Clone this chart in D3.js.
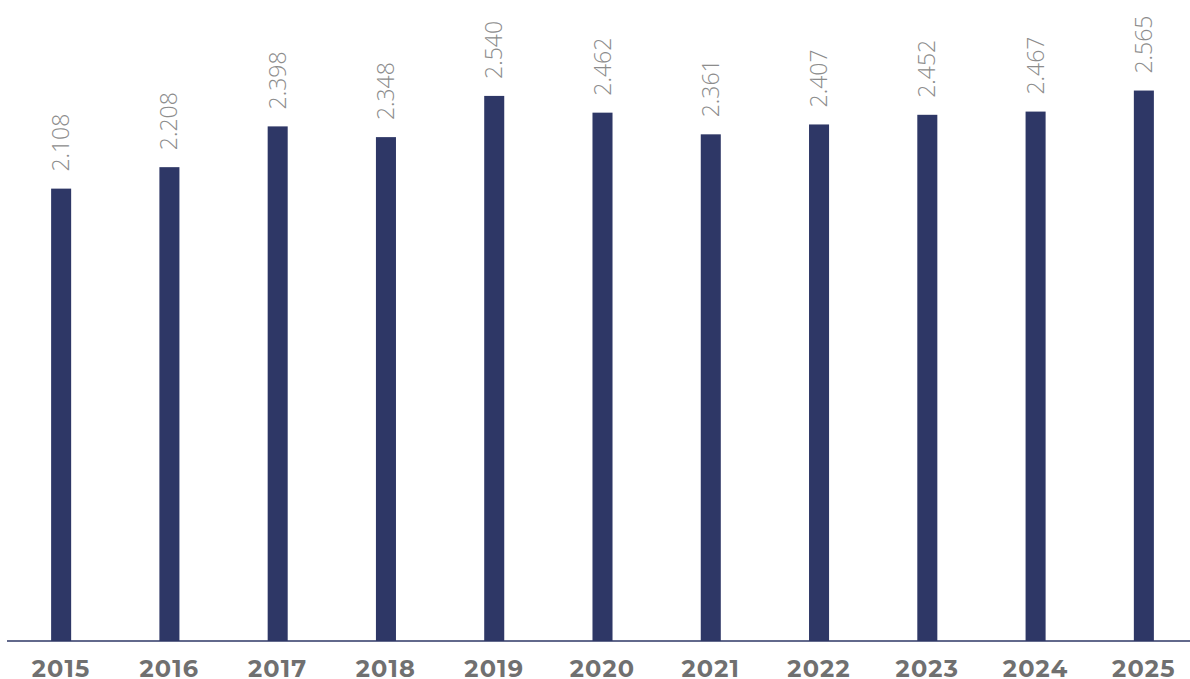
<!DOCTYPE html>
<html><head><meta charset="utf-8">
<script src="https://cdn.jsdelivr.net/npm/d3@7/dist/d3.min.js"></script>
<style>body{margin:0;background:#fff}svg{display:block}</style>
</head><body>
<svg id="chart" width="1190" height="679"></svg>
<script>
const years = ["2015","2016","2017","2018","2019","2020","2021","2022","2023","2024","2025"];
const values = [2.108,2.208,2.398,2.348,2.540,2.462,2.361,2.407,2.452,2.467,2.565];
const valueLabels = ["2.108","2.208","2.398","2.348","2.540","2.462","2.361","2.407","2.452","2.467","2.565"];

const svg = d3.select("#chart");
const base = 641;
const x = d3.scaleBand().domain(years).range([7, 1198]).paddingInner(0.815).paddingOuter(0.4075);
const y = d3.scaleLinear().domain([0, 3]).range([base, base - 3 * 214.6]);

svg.selectAll("rect.bar").data(years).join("rect")
  .attr("class","bar")
  .attr("x", d => x(d))
  .attr("width", x.bandwidth())
  .attr("y", (d,i) => y(values[i]))
  .attr("height", (d,i) => base - y(values[i]))
  .attr("fill", "#2e3766");

svg.selectAll("text.val").data(years).join("text")
  .attr("class","val")
  .attr("transform", (d,i) => `translate(${x(d) + x.bandwidth()/2 + 8},${y(values[i]) - 17}) rotate(-90)`)
  .attr("text-anchor","start")
  .attr("font-family","'Open Sans', sans-serif")
  .attr("font-weight", 300)
  .attr("font-size", 23)
  .attr("fill","#8c8c8c")
  .text((d,i) => valueLabels[i]);

const xAxis = d3.axisBottom(x).tickSize(0).tickPadding(19);
const g = svg.append("g").attr("transform", `translate(0,${base})`).call(xAxis);
g.select(".domain").attr("d", "M7,0H1190").attr("stroke","#2e3766").attr("stroke-width",1.5);
g.selectAll(".tick text")
  .attr("font-family","Montserrat, 'Open Sans', sans-serif")
  .attr("font-weight", 700)
  .attr("font-size", 24)
  .attr("letter-spacing", 1.2)
  .attr("fill","#707070");
</script>
</body></html>
